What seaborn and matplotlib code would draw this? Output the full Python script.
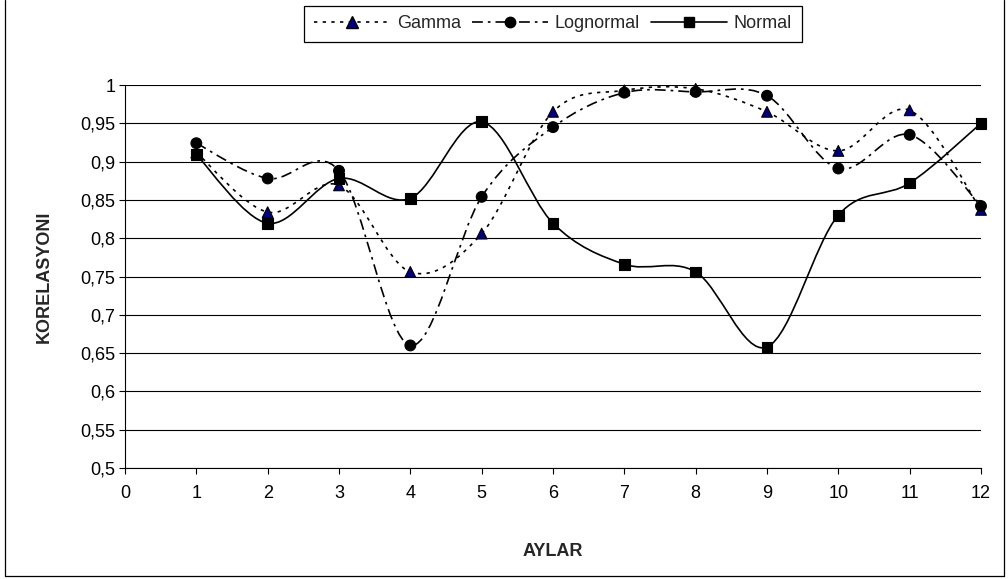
import numpy as np
import pandas as pd
import seaborn as sns
import matplotlib
matplotlib.use("Agg")
import matplotlib.pyplot as plt
from matplotlib.path import Path
from matplotlib.patches import PathPatch
from matplotlib.lines import Line2D
from matplotlib.ticker import FuncFormatter, MultipleLocator

# ---- data ----
months = [1, 2, 3, 4, 5, 6, 7, 8, 9, 10, 11, 12]
gamma = [0.912, 0.834, 0.869, 0.756, 0.806, 0.965, 0.993, 0.995, 0.965, 0.914, 0.967, 0.837]
lognormal = [0.924, 0.878, 0.888, 0.660, 0.854, 0.945, 0.990, 0.991, 0.986, 0.891, 0.935, 0.842]
normal = [0.909, 0.8195, 0.878, 0.852, 0.952, 0.8195, 0.766, 0.756, 0.658, 0.830, 0.872, 0.950]
series_names = ["Gamma", "Lognormal", "Normal"]
x_label = "AYLAR"
y_label = "KORELASYONI"

sns.set_theme(style="white")
plt.rcParams['font.family'] = ['Liberation Sans', 'DejaVu Sans']

W, H = 1008, 579
fig = plt.figure(figsize=(W / 100, H / 100), dpi=100)
ax = fig.add_axes([125 / W, 1 - 468 / H, 856 / W, 383 / H])

df = pd.DataFrame({
    "Ay": months * 3,
    "Korelasyon": gamma + lognormal + normal,
    "Dağılım": [series_names[0]] * 12 + [series_names[1]] * 12 + [series_names[2]] * 12,
})

styles = {
    "Gamma": dict(ls=(0, (2.0, 3.2)), marker="^", mfc="#000080", ms=8.5),
    "Lognormal": dict(ls=(0, (6.5, 3.0, 1.6, 3.0)), marker="o", mfc="black", ms=7.5),
    "Normal": dict(ls="-", marker="s", mfc="black", ms=7.2),
}
lw = 1.2


def smooth_path(x, y):
    x = np.asarray(x, float)
    y = np.asarray(y, float)
    n = len(x)
    verts = [(x[0], y[0])]
    codes = [Path.MOVETO]
    for i in range(n - 1):
        i0 = max(i - 1, 0)
        i3 = min(i + 2, n - 1)
        c1 = (x[i] + (x[i + 1] - x[i0]) / 6, y[i] + (y[i + 1] - y[i0]) / 6)
        c2 = (x[i + 1] - (x[i3] - x[i]) / 6, y[i + 1] - (y[i3] - y[i]) / 6)
        verts += [c1, c2, (x[i + 1], y[i + 1])]
        codes += [Path.CURVE4] * 3
    return Path(verts, codes)


# smoothed lines
for name in series_names:
    sub = df[df["Dağılım"] == name]
    patch = PathPatch(smooth_path(sub["Ay"], sub["Korelasyon"]), fill=False,
                      edgecolor="black", lw=lw, linestyle=styles[name]["ls"],
                      zorder=3, clip_on=False)
    ax.add_patch(patch)

# markers
sns.scatterplot(data=df, x="Ay", y="Korelasyon", hue="Dağılım", style="Dağılım",
                palette={n: styles[n]["mfc"] for n in series_names},
                markers={n: styles[n]["marker"] for n in series_names},
                s=60, edgecolor="black", linewidth=0.8, legend=False, ax=ax,
                zorder=4, clip_on=False)

ax.set_xlim(0, 12)
ax.set_ylim(0.5, 1.0)
ax.xaxis.set_major_locator(MultipleLocator(1))
ax.yaxis.set_major_locator(MultipleLocator(0.05))


def fmt(v, _):
    s = f"{v:.2f}".rstrip("0").rstrip(".")
    return s.replace(".", ",")


ax.yaxis.set_major_formatter(FuncFormatter(fmt))
ax.yaxis.grid(True, color="black", lw=0.8)
ax.xaxis.grid(False)
ax.set_axisbelow(True)
for s in ["top", "right"]:
    ax.spines[s].set_visible(False)
for s in ["left", "bottom"]:
    ax.spines[s].set_color("black")
    ax.spines[s].set_linewidth(0.8)
ax.tick_params(axis="both", direction="out", length=4, width=0.8, colors="black",
               labelsize=13, bottom=True, left=True)
ax.tick_params(axis="x", pad=8)
ax.tick_params(axis="y", pad=3)

ax.set_xlabel(x_label, fontsize=13, fontweight="bold")
ax.set_ylabel(y_label, fontsize=13, fontweight="bold")
ax.xaxis.set_label_coords(0.5, -(543 - 468) / 383)
ax.yaxis.set_label_coords((53 - 125) / 856, 0.5)

# legend
handles = [Line2D([], [], color="black", lw=lw, linestyle=styles[n]["ls"],
                  marker=styles[n]["marker"], markerfacecolor=styles[n]["mfc"],
                  markeredgecolor="black", markersize=styles[n]["ms"])
           for n in series_names]
leg = fig.legend(handles, series_names, loc="center",
                 bbox_to_anchor=(553 / W, 1 - 24 / H), ncol=3, frameon=True,
                 fancybox=False, edgecolor="black", framealpha=1, fontsize=13,
                 handlelength=4.2, columnspacing=0.6, handletextpad=0.4,
                 borderpad=0.55, borderaxespad=0)
leg.get_frame().set_linewidth(0.9)

# outer chart border (left, right, bottom)
fig.add_artist(Line2D([5 / W, 5 / W], [3 / H, 1.0], transform=fig.transFigure,
                      color="black", lw=0.9))
fig.add_artist(Line2D([1004 / W, 1004 / W], [3 / H, 1.0], transform=fig.transFigure,
                      color="black", lw=0.9))
fig.add_artist(Line2D([5 / W, 1004 / W], [3 / H, 3 / H], transform=fig.transFigure,
                      color="black", lw=0.9))

fig.savefig("out.png", dpi=100)
